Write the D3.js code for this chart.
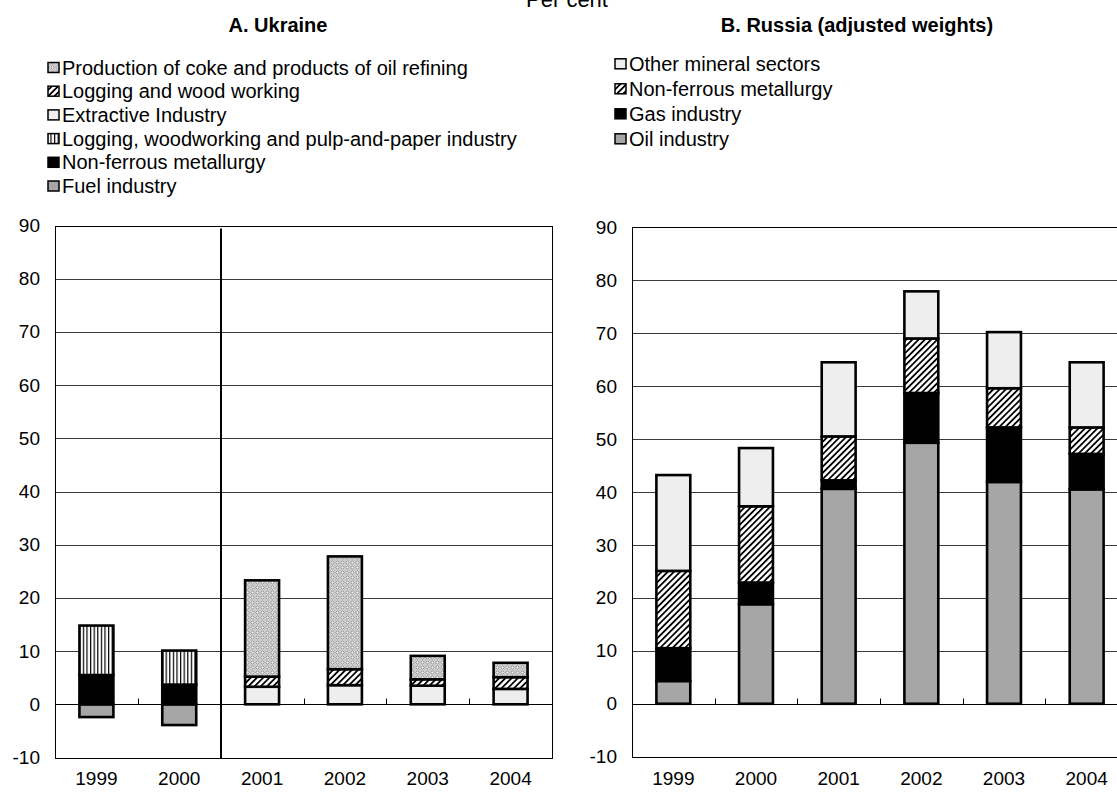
<!DOCTYPE html>
<html>
<head>
<meta charset="utf-8">
<script src="https://cdn.jsdelivr.net/npm/d3@7"></script>
<style>
  html, body { margin: 0; padding: 0; background: #fff; }
  svg { display: block; font-family: "Liberation Sans", Arial, sans-serif; }
</style>
</head>
<body>
<svg id="chart" width="1117" height="793"></svg>
<script>
// ---------------- DATA ----------------
const years = ["1999", "2000", "2001", "2002", "2003", "2004"];
const yTicks = [-10, 0, 10, 20, 30, 40, 50, 60, 70, 80, 90];

// Panel A: Ukraine (stack order bottom -> top)
const ukraineSeries = ["Fuel industry", "Non-ferrous metallurgy",
  "Logging, woodworking and pulp-and-paper industry", "Extractive Industry",
  "Logging and wood working", "Production of coke and products of oil refining"];
const ukFuel      = [-2.4, -3.9, 0, 0, 0, 0];
const ukNonFerrous = [5.5, 3.7, 0, 0, 0, 0];
const ukLoggingPulp = [9.3, 6.4, 0, 0, 0, 0];
const ukExtractive = [0, 0, 3.3, 3.6, 3.5, 2.9];
const ukLoggingWood = [0, 0, 1.9, 3.0, 1.2, 2.2];
const ukCoke       = [0, 0, 18.1, 21.2, 4.4, 2.7];

// Panel B: Russia (adjusted weights) (stack order bottom -> top)
const russiaSeries = ["Oil industry", "Gas industry", "Non-ferrous metallurgy", "Other mineral sectors"];
const ruOil        = [4.3, 18.8, 40.6, 49.3, 41.9, 40.5];
const ruGas        = [6.2, 4.1, 1.6, 9.4, 10.3, 6.7];
const ruNonFerrous = [14.6, 14.4, 8.3, 10.3, 7.4, 5.0];
const ruOther      = [18.1, 11.0, 14.0, 8.9, 10.6, 12.3];

const ukraineValues = [ukFuel, ukNonFerrous, ukLoggingPulp, ukExtractive, ukLoggingWood, ukCoke];
const russiaValues = [ruOil, ruGas, ruNonFerrous, ruOther];

// ---------------- STYLES ----------------
const fills = {
  "Fuel industry": "#a6a6a6",
  "Oil industry": "#a6a6a6",
  "Non-ferrous metallurgy|A": "#000",
  "Gas industry": "#000",
  "Logging, woodworking and pulp-and-paper industry": "url(#vstripe)",
  "Extractive Industry": "#eeeeee",
  "Other mineral sectors": "#eeeeee",
  "Logging and wood working": "url(#dstripe)",
  "Non-ferrous metallurgy|B": "url(#dstripe)",
  "Production of coke and products of oil refining": "url(#coke)"
};
function fillFor(name, panel) {
  return fills[name + "|" + panel] || fills[name];
}

const svg = d3.select("#chart");
const defs = svg.append("defs");

// vertical stripes
const pv = defs.append("pattern").attr("id", "vstripe").attr("patternUnits", "userSpaceOnUse")
  .attr("width", 3.6).attr("height", 10);
pv.append("rect").attr("width", 3.6).attr("height", 10).attr("fill", "#fff");
pv.append("rect").attr("x", 0).attr("width", 1.2).attr("height", 10).attr("fill", "#000");

// diagonal stripes
const pd = defs.append("pattern").attr("id", "dstripe").attr("patternUnits", "userSpaceOnUse")
  .attr("width", 4.4).attr("height", 10).attr("patternTransform", "rotate(45)");
pd.append("rect").attr("width", 4.4).attr("height", 10).attr("fill", "#fff");
pd.append("rect").attr("x", 0).attr("width", 1.8).attr("height", 10).attr("fill", "#000");

// coke: small lattice of gray circles
const pc = defs.append("pattern").attr("id", "coke").attr("patternUnits", "userSpaceOnUse")
  .attr("width", 5).attr("height", 5);
pc.append("rect").attr("width", 5).attr("height", 5).attr("fill", "#eeeeee");
pc.append("circle").attr("cx", 2.5).attr("cy", 2.5).attr("r", 1.7)
  .attr("fill", "none").attr("stroke", "#7a7a7a").attr("stroke-width", 0.9);
[[0,0],[5,0],[0,5],[5,5]].forEach(([cx, cy]) =>
  pc.append("circle").attr("cx", cx).attr("cy", cy).attr("r", 0.8).attr("fill", "#999"));

// ---------------- HEADER ----------------
svg.append("text").attr("x", 567).attr("y", 7).attr("text-anchor", "middle")
  .attr("font-size", 22).text("Per cent");

// ---------------- PANEL ----------------
function drawPanel(cfg) {
  const g = svg.append("g");
  const x = d3.scaleBand().domain(years).range([cfg.x0, cfg.x1])
    .paddingInner(0.59).paddingOuter(0.295);
  const y = d3.scaleLinear().domain([-10, 90]).range([cfg.yBot, cfg.yTop]);

  // title
  g.append("text").attr("x", cfg.titleX).attr("y", 32).attr("text-anchor", "middle")
    .attr("font-size", 20).attr("font-weight", "bold").text(cfg.title);

  // gridlines
  g.append("g").selectAll("line").data(yTicks.filter(t => t !== 0 && t !== -10 && t !== 90)).join("line")
    .attr("x1", cfg.x0).attr("x2", cfg.x1)
    .attr("y1", d => Math.round(y(d)) + 0.5).attr("y2", d => Math.round(y(d)) + 0.5)
    .attr("stroke", "#3a3a3a").attr("stroke-width", 1);

  // frame
  g.append("rect").attr("x", cfg.x0 + 0.5).attr("y", Math.round(y(90)) + 0.5)
    .attr("width", cfg.x1 - cfg.x0).attr("height", Math.round(y(-10)) - Math.round(y(90)))
    .attr("fill", "none").attr("stroke", "#000").attr("stroke-width", 1);

  // y axis labels
  const yAxis = d3.axisLeft(y).tickValues(yTicks).tickSize(0).tickPadding(15)
    .tickFormat(d => String(d));
  const ya = g.append("g").attr("transform", `translate(${cfg.x0},0)`).call(yAxis);
  ya.select(".domain").remove();
  ya.selectAll("text").attr("font-size", 19).attr("font-family", "Liberation Sans, Arial, sans-serif")
    .attr("fill", "#000");

  // x labels
  const xAxis = d3.axisBottom(x).tickSize(0).tickPadding(0);
  const xa = g.append("g").attr("transform", `translate(0,${cfg.labelY})`).call(xAxis);
  xa.select(".domain").remove();
  xa.selectAll("text").attr("font-size", 19).attr("font-family", "Liberation Sans, Arial, sans-serif")
    .attr("fill", "#000").attr("dy", "0");

  // stacked bars
  const rows = years.map((yr, i) => {
    const o = { year: yr };
    cfg.series.forEach((s, k) => { o[s] = cfg.values[k][i]; });
    return o;
  });
  const stack = d3.stack().keys(cfg.series).offset(d3.stackOffsetDiverging);
  const layers = stack(rows);
  const barG = g.append("g");
  layers.forEach(layer => {
    barG.append("g").selectAll("rect")
      .data(layer.filter(d => d[1] !== d[0]))
      .join("rect")
      .attr("x", d => x(d.data.year))
      .attr("width", x.bandwidth())
      .attr("y", d => y(Math.max(d[0], d[1])))
      .attr("height", d => Math.abs(y(d[0]) - y(d[1])))
      .attr("fill", fillFor(layer.key, cfg.panel))
      .attr("stroke", "#000").attr("stroke-width", 2.6);
  });

  // zero axis line and category ticks
  const y0 = Math.round(y(0)) + 0.5;
  g.append("line").attr("x1", cfg.x0).attr("x2", cfg.x1).attr("y1", y0).attr("y2", y0)
    .attr("stroke", "#000").attr("stroke-width", 1.2);
  const gap = (x.step() - x.bandwidth()) / 2;
  g.append("g").selectAll("line").data(years.slice(1)).join("line")
    .attr("x1", d => Math.round(x(d) - gap) + 0.5).attr("x2", d => Math.round(x(d) - gap) + 0.5)
    .attr("y1", y0).attr("y2", y0 - 6).attr("stroke", "#000").attr("stroke-width", 1);

  // legend
  const lg = g.append("g");
  cfg.legend.forEach((name, i) => {
    const cy = cfg.legY + i * cfg.legStep;
    lg.append("rect").attr("x", cfg.legX).attr("y", cy - 5).attr("width", 11).attr("height", 10)
      .attr("fill", fillFor(name, cfg.panel)).attr("stroke", "#000").attr("stroke-width", 1.5);
    lg.append("text").attr("x", cfg.legX + 14).attr("y", cy).attr("dy", "0.35em")
      .attr("font-size", cfg.legFont).text(name);
  });

  return { x, y, g };
}

const A = drawPanel({
  panel: "A", title: "A. Ukraine", titleX: 278,
  x0: 55, x1: 552, yTop: 225.5, yBot: 757.5, labelY: 785,
  series: ukraineSeries, values: ukraineValues,
  legend: ukraineSeries.slice().reverse(), legX: 48, legY: 67.5, legStep: 23.7, legFont: 20
});
// vertical separator between 2000 and 2001
{
  const gap = (A.x.step() - A.x.bandwidth()) / 2;
  const sx = Math.round(A.x("2001") - gap);
  svg.append("line").attr("x1", sx).attr("x2", sx).attr("y1", 228.5).attr("y2", 759)
    .attr("stroke", "#000").attr("stroke-width", 2);
}

drawPanel({
  panel: "B", title: "B. Russia (adjusted weights)", titleX: 857,
  x0: 632, x1: 1128, yTop: 227.3, yBot: 756.7, labelY: 785,
  series: russiaSeries, values: russiaValues,
  legend: russiaSeries.slice().reverse(), legX: 615, legY: 63.8, legStep: 25, legFont: 20
});
</script>
</body>
</html>
